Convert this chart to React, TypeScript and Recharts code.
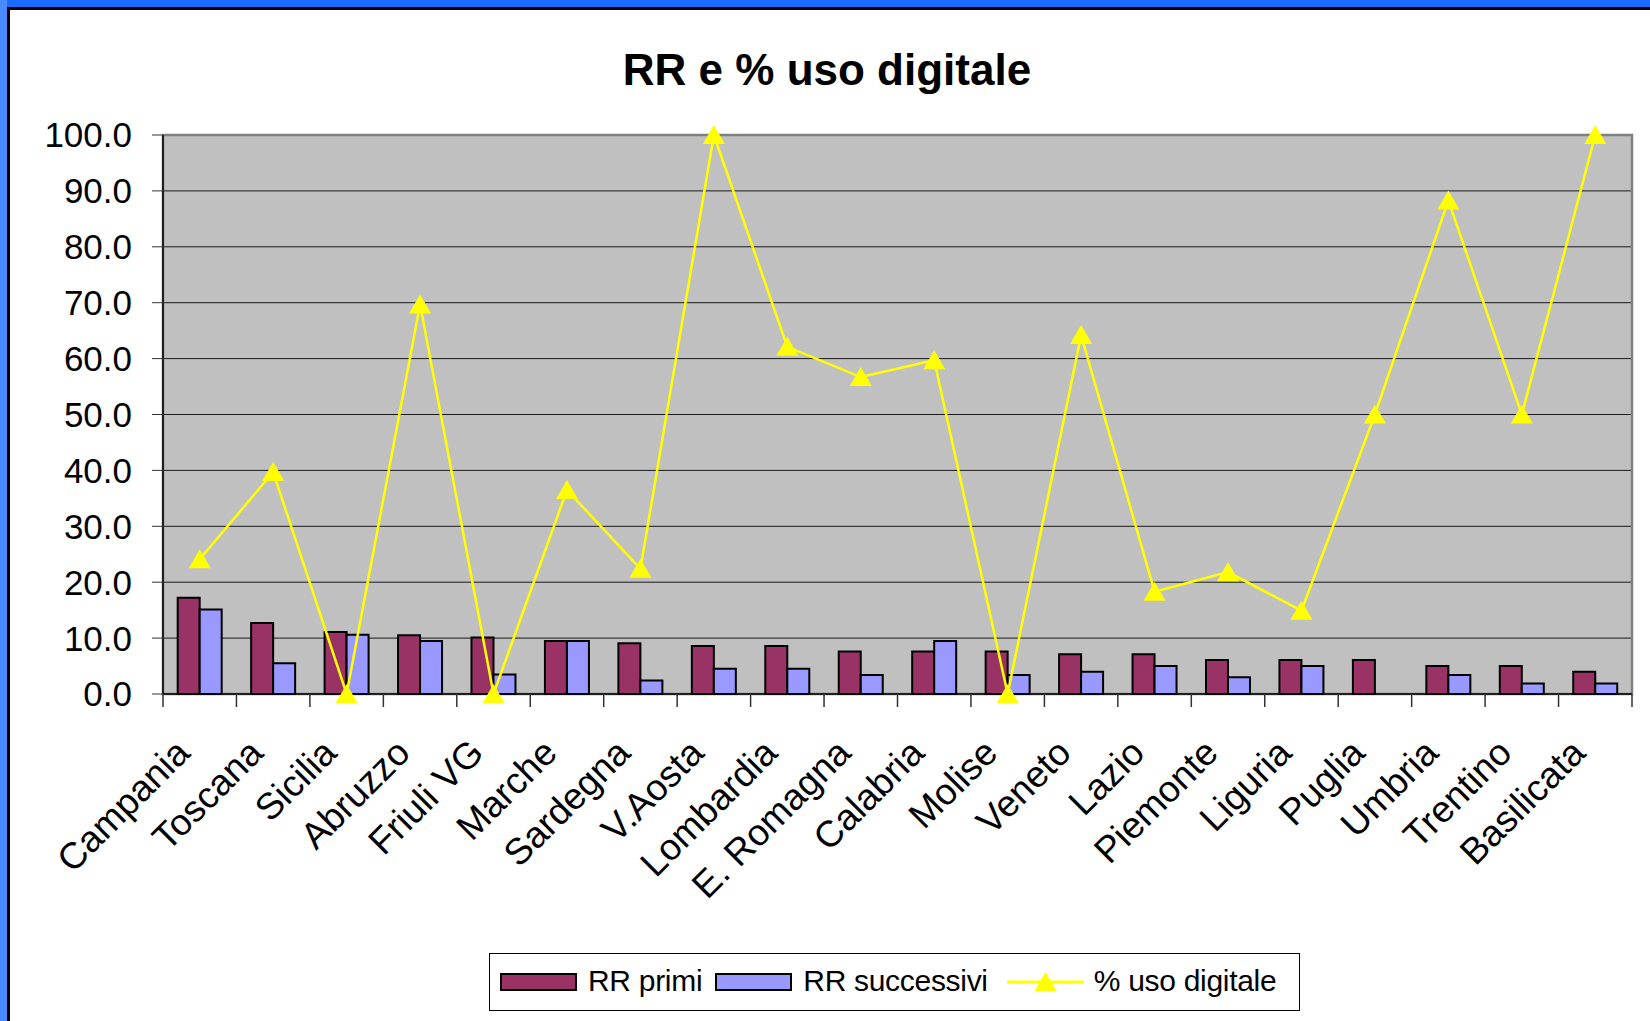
import React from "react"
import {
  ComposedChart,
  Bar,
  Line,
  XAxis,
  YAxis,
  CartesianGrid,
  Legend,
  ReferenceArea,
} from "recharts"

// data
const regions = [
  "Campania", "Toscana", "Sicilia", "Abruzzo", "Friuli VG", "Marche", "Sardegna",
  "V.Aosta", "Lombardia", "E. Romagna", "Calabria", "Molise", "Veneto", "Lazio",
  "Piemonte", "Liguria", "Puglia", "Umbria", "Trentino", "Basilicata",
]
const rrPrimi = [17.2, 12.7, 11.1, 10.5, 10.1, 9.5, 9.1, 8.6, 8.6, 7.6, 7.6, 7.6, 7.1, 7.1, 6.1, 6.1, 6.1, 5.0, 5.0, 4.0]
const rrSuccessivi = [15.1, 5.5, 10.6, 9.5, 3.5, 9.5, 2.4, 4.5, 4.5, 3.4, 9.5, 3.4, 4.0, 5.0, 3.0, 5.0, null, 3.4, 1.9, 1.9]
const usoDigitale = [24.1, 39.7, 0, 69.7, 0, 36.5, 22.4, 100, 62.1, 56.7, 59.7, 0, 64.2, 18.3, 21.8, 14.9, 50, 88.3, 50, 100]
const yTicks = [0, 10, 20, 30, 40, 50, 60, 70, 80, 90, 100]
const legendOrder = ["RR primi", "RR successivi", "% uso digitale"]

const data = regions.map((r, i) => ({
  region: r,
  primi: rrPrimi[i],
  successivi: rrSuccessivi[i],
  uso: usoDigitale[i],
}))

const W = 1650
const H = 1021
const PLOT_LEFT = 163
const PLOT_RIGHT = 18
const BAND = (W - PLOT_LEFT - PLOT_RIGHT) / regions.length
const FONT = "'Liberation Sans', Arial, sans-serif"

const XTick = (props: any) => {
  const { x, y, payload, index } = props
  const tx = x - 8
  const ty = y + 61
  return (
    <g>
      <line x1={x - BAND / 2} x2={x - BAND / 2} y1={y} y2={y + 13} stroke="#333" strokeWidth={1.5} />
      {index === regions.length - 1 && (
        <line x1={x + BAND / 2} x2={x + BAND / 2} y1={y} y2={y + 13} stroke="#333" strokeWidth={1.5} />
      )}
      <text
        x={tx}
        y={ty}
        transform={`rotate(-45, ${tx}, ${ty})`}
        textAnchor="end"
        fontSize={37}
        fontFamily={FONT}
        fill="#000"
      >
        {payload.value}
      </text>
    </g>
  )
}

const Triangle = (props: any) => {
  const { cx, cy } = props
  if (cx == null || cy == null) return null
  return <path d={`M${cx},${cy - 10} L${cx + 11},${cy + 9} L${cx - 11},${cy + 9} Z`} fill="#FFFF00" />
}

const LegendBox = (props: any) => {
  const items = [...(props.payload || [])].sort(
    (a: any, b: any) => legendOrder.indexOf(a.value) - legendOrder.indexOf(b.value)
  )
  return (
    <div
      style={{
        width: 811,
        height: 58,
        border: "1px solid #000",
        background: "#fff",
        display: "flex",
        alignItems: "center",
        fontFamily: FONT,
        fontSize: 30,
        color: "#000",
        boxSizing: "border-box",
        paddingLeft: 10,
        paddingBottom: 3,
      }}
    >
      {items.map((it: any, i: number) => (
        <div key={i} style={{ display: "flex", alignItems: "center", marginRight: i === 0 ? 13 : 19 }}>
          {it.type === "line" ? (
            <svg width={77} height={22} style={{ marginRight: 10 }}>
              <line x1={0} x2={77} y1={12} y2={12} stroke="#FFFF00" strokeWidth={3} />
              <path d="M38.5,2 L49.5,21 L27.5,21 Z" fill="#FFFF00" />
            </svg>
          ) : (
            <div
              style={{
                width: 77,
                height: 18,
                background: it.color,
                border: "2px solid #000",
                boxSizing: "border-box",
                marginRight: 11,
                marginTop: 3,
              }}
            />
          )}
          <span style={{ letterSpacing: -0.3 }}>{it.value}</span>
        </div>
      ))}
    </div>
  )
}

export default function App() {
  return (
    <div style={{ position: "absolute", left: 0, top: 0, width: W, height: H, background: "#fff", overflow: "hidden" }}>
      <div style={{ position: "absolute", left: 0, top: 0, width: W, height: 7, background: "#1a6cff" }} />
      <div style={{ position: "absolute", left: 0, top: 0, width: 7, height: H, background: "#4a8aff" }} />
      <div style={{ position: "absolute", left: 7, top: 7, width: W - 7, height: 3, background: "#000" }} />
      <div style={{ position: "absolute", left: 7, top: 7, width: 3, height: H - 7, background: "#000" }} />
      <div
        style={{
          position: "absolute",
          left: 0,
          width: W,
          top: 42,
          textAlign: "center",
          paddingLeft: 2,
          fontFamily: FONT,
          fontWeight: "bold",
          fontSize: 44,
          lineHeight: "56px",
          color: "#000",
        }}
      >
        RR e % uso digitale
      </div>
      <div style={{ position: "absolute", left: 0, top: 0 }}>
        <ComposedChart
          width={W}
          height={H}
          data={data}
          margin={{ top: 135, right: PLOT_RIGHT, bottom: 0, left: 0 }}
          barCategoryGap="20%"
          barGap={0}
        >
          <CartesianGrid vertical={false} fill="#C0C0C0" stroke="#1a1a1a" strokeWidth={1} />
          <ReferenceArea
            x1={regions[0]}
            x2={regions[regions.length - 1]}
            y1={0}
            y2={100}
            fill="none"
            stroke="#808080"
            strokeWidth={2.5}
          />
          <XAxis
            dataKey="region"
            interval={0}
            height={327}
            tickSize={0}
            tickMargin={0}
            tickLine={false}
            axisLine={{ stroke: "#000", strokeWidth: 1.5 }}
            tick={<XTick />}
          />
          <YAxis
            width={PLOT_LEFT}
            domain={[0, 100]}
            ticks={yTicks}
            tickFormatter={(v: number) => v.toFixed(1)}
            tickSize={11}
            tickMargin={20}
            tickLine={{ stroke: "#333" }}
            axisLine={{ stroke: "#000", strokeWidth: 1.5 }}
            tick={{ fontSize: 35, fontFamily: FONT, fill: "#000" }}
          />
          <Bar dataKey="primi" name="RR primi" fill="#993366" stroke="#000" strokeWidth={2} isAnimationActive={false} />
          <Bar dataKey="successivi" name="RR successivi" fill="#9999FF" stroke="#000" strokeWidth={2} isAnimationActive={false} />
          <Line
            dataKey="uso"
            name="% uso digitale"
            stroke="#FFFF00"
            strokeWidth={2.5}
            dot={<Triangle />}
            activeDot={false}
            isAnimationActive={false}
            legendType="line"
          />
          <Legend
            layout="horizontal"
            verticalAlign="middle"
            align="center"
            content={<LegendBox />}
            wrapperStyle={{ position: "absolute", left: 489, top: 953, width: 811, height: 58 }}
          />
        </ComposedChart>
      </div>
    </div>
  )
}
